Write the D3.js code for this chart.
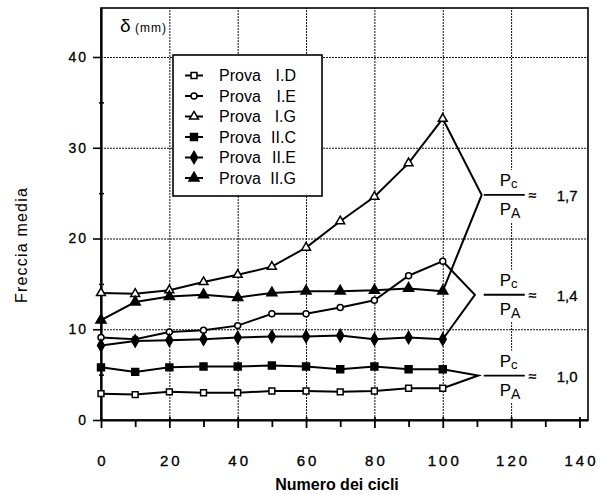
<!DOCTYPE html>
<html>
<head>
<meta charset="utf-8">
<script src="https://cdn.jsdelivr.net/npm/d3@7"></script>
<style>
body { margin: 0; background: #fff; }
svg { font-family: "Liberation Sans", Arial, sans-serif; }
</style>
</head>
<body>
<svg id="svg" width="600" height="495"></svg>
<script>
// values
var cycles = [0, 10, 20, 30, 40, 50, 60, 70, 80, 90, 100];
var provaID  = [2.9, 2.8, 3.1, 3.0, 3.0, 3.2, 3.2, 3.1, 3.2, 3.5, 3.5];
var provaIE  = [9.1, 8.9, 9.7, 9.9, 10.4, 11.7, 11.7, 12.4, 13.2, 15.9, 17.5];
var provaIG  = [14.0, 13.9, 14.3, 15.2, 16.0, 16.9, 19.0, 21.9, 24.6, 28.3, 33.2];
var provaIIC = [5.8, 5.3, 5.8, 5.9, 5.9, 6.0, 5.9, 5.6, 5.9, 5.6, 5.6];
var provaIIE = [8.2, 8.7, 8.8, 8.9, 9.1, 9.2, 9.2, 9.3, 8.9, 9.1, 8.9];
var provaIIG = [11.0, 13.0, 13.6, 13.8, 13.5, 14.0, 14.2, 14.2, 14.3, 14.5, 14.2];

var seriesNames = ["I.D", "I.E", "I.G", "II.C", "II.E", "II.G"];
var seriesValues = [provaID, provaIE, provaIG, provaIIC, provaIIE, provaIIG];

var xTicks = [0, 20, 40, 60, 80, 100, 120, 140];
var xMinor = [10, 30, 50, 70, 90, 110, 130];
var yTicks = [0, 10, 20, 30, 40];
var yMinor = [5, 15, 25, 35];

// Pc/PA groups: which two curves meet, and where they meet
var ratios = ["1,7", "1,4", "1,0"];
var ratioPairs = [["I.G", "II.G"], ["I.E", "II.E"], ["II.C", "I.D"]];
var ratioTipX = [111.4, 109.4, 110.4];
var ratioTipY = [24.8, 13.8, 4.9];

var svg = d3.select("#svg");
var plotLeft = 101, plotRight = 588, plotTop = 8, plotBottom = 420;

var x = d3.scaleLinear().domain([0, 142.5]).range([plotLeft, plotRight]);
var y = d3.scaleLinear().domain([0, 45.4]).range([plotBottom, plotTop]);

// dotted grid
var gx = svg.append("g").attr("transform", "translate(0," + plotBottom + ")")
  .call(d3.axisBottom(x).tickValues([20, 40, 60, 80, 100, 120]).tickSize(-(plotBottom - plotTop)).tickFormat(""));
gx.select(".domain").remove();
gx.selectAll("line").attr("stroke", "#111").attr("stroke-width", 1).attr("stroke-dasharray", "2,1");

var gy = svg.append("g").attr("transform", "translate(" + plotLeft + ",0)")
  .call(d3.axisLeft(y).tickValues([10, 20, 30, 40]).tickSize(-(plotRight - plotLeft)).tickFormat(""));
gy.select(".domain").remove();
gy.selectAll("line").attr("stroke", "#111").attr("stroke-width", 1).attr("stroke-dasharray", "2,1");

// frame
svg.append("rect")
  .attr("x", plotLeft).attr("y", plotTop)
  .attr("width", plotRight - plotLeft).attr("height", plotBottom - plotTop)
  .attr("fill", "none").attr("stroke", "black").attr("stroke-width", 1.6);

// x axis
var xAxis = svg.append("g").attr("transform", "translate(0," + plotBottom + ")")
  .call(d3.axisBottom(x).tickValues(xTicks).tickSize(8).tickSizeOuter(0));
xAxis.select(".domain").attr("stroke-width", 2.2);
xAxis.selectAll(".tick line").attr("y1", -3).attr("stroke-width", 1.8);
xAxis.selectAll("text")
  .attr("y", 46).attr("dy", 0).attr("dx", 1.5)
  .attr("font-size", 15).attr("letter-spacing", 3).attr("fill", "black")
  .attr("stroke", "black").attr("stroke-width", 0.35)
  .style("font-family", "'Liberation Sans', Arial, sans-serif");

var xAxisMinor = svg.append("g").attr("transform", "translate(0," + plotBottom + ")")
  .call(d3.axisBottom(x).tickValues(xMinor).tickSize(7).tickFormat(""));
xAxisMinor.select(".domain").remove();
xAxisMinor.selectAll("line").attr("stroke-width", 1.8);

// y axis
var yAxis = svg.append("g").attr("transform", "translate(" + plotLeft + ",0)")
  .call(d3.axisLeft(y).tickValues(yTicks).tickSize(8).tickSizeOuter(0));
yAxis.select(".domain").attr("stroke-width", 2.2);
yAxis.selectAll(".tick line").attr("stroke-width", 1.6);
yAxis.selectAll("text")
  .attr("x", -13).attr("font-size", 14).attr("letter-spacing", 2).attr("fill", "black")
  .attr("stroke", "black").attr("stroke-width", 0.3)
  .style("font-family", "'Liberation Sans', Arial, sans-serif");

var yAxisMinor = svg.append("g").attr("transform", "translate(" + plotLeft + ",0)")
  .call(d3.axisLeft(y).tickValues(yMinor).tickSize(3).tickFormat(""));
yAxisMinor.select(".domain").remove();
yAxisMinor.selectAll("line").attr("x2", 3).attr("x1", -2).attr("stroke-width", 1.5);

// axis titles
svg.append("text")
  .attr("x", 337).attr("y", 490)
  .attr("text-anchor", "middle")
  .attr("font-size", 16).attr("font-weight", "bold")
  .text("Numero dei cicli");

svg.append("text")
  .attr("transform", "translate(27,245) rotate(-90)")
  .attr("text-anchor", "middle")
  .attr("font-size", 16).attr("letter-spacing", 1.2)
  .text("Freccia media");

svg.append("text").attr("x", 120).attr("y", 32).attr("font-size", 19).text("δ");
svg.append("text").attr("x", 135).attr("y", 32).attr("font-size", 12).attr("letter-spacing", 1).text("(mm)");

// marker look per series
var markerType = [d3.symbolSquare, d3.symbolCircle, d3.symbolTriangle, d3.symbolSquare, d3.symbolDiamond, d3.symbolTriangle];
var markerSize = [34, 28, 34, 48, 42, 44];
var markerFill = ["white", "white", "white", "black", "black", "black"];

var line = d3.line()
  .x(function(d) { return x(d[0]); })
  .y(function(d) { return y(d[1]); });

// Pc/PA brackets joining the last points of each pair
var barX0 = x(112);
for (var k = 0; k < ratios.length; k += 1) {
  var a = seriesValues[seriesNames.indexOf(ratioPairs[k][0])];
  var b = seriesValues[seriesNames.indexOf(ratioPairs[k][1])];
  var last = cycles.length - 1;
  svg.append("path")
    .attr("d", line([[cycles[last], a[last]], [ratioTipX[k], ratioTipY[k]], [cycles[last], b[last]]]))
    .attr("fill", "none").attr("stroke", "black").attr("stroke-width", 2)
    .attr("stroke-linejoin", "miter");
}

for (var i = 0; i < seriesNames.length; i += 1) {
  var pts = cycles.map(function(c, j) { return [c, seriesValues[i][j]]; });
  svg.append("path")
    .attr("d", line(pts))
    .attr("fill", "none").attr("stroke", "black").attr("stroke-width", 2);

  svg.append("g").selectAll("path")
    .data(pts)
    .join("path")
    .attr("transform", function(d) { return "translate(" + x(d[0]) + "," + y(d[1]) + ")"; })
    .attr("d", d3.symbol().type(markerType[i]).size(markerSize[i]))
    .attr("fill", markerFill[i]).attr("stroke", "black").attr("stroke-width", 1.5);
}

// fraction labels
for (var k = 0; k < ratios.length; k += 1) {
  var by = y(ratioTipY[k]);
  var g = svg.append("g");
  g.append("rect")
    .attr("x", barX0 - 1).attr("y", by - 25)
    .attr("width", 586 - barX0).attr("height", 52)
    .attr("fill", "white");
  g.append("line")
    .attr("x1", barX0).attr("x2", barX0 + 41)
    .attr("y1", by).attr("y2", by)
    .attr("stroke", "black").attr("stroke-width", 1.8);
  var t1 = g.append("text").attr("x", barX0 + 16).attr("y", by - 9).attr("font-size", 17).text("P");
  t1.append("tspan").attr("font-size", 13).attr("dy", 2).text("c");
  var t2 = g.append("text").attr("x", barX0 + 16).attr("y", by + 20).attr("font-size", 17).text("P");
  t2.append("tspan").attr("font-size", 14).attr("dy", 3).text("A");
  g.append("text").attr("x", barX0 + 45).attr("y", by + 5).attr("font-size", 14)
    .attr("stroke", "black").attr("stroke-width", 0.4).text("≈");
  g.append("text").attr("x", barX0 + 73).attr("y", by + 6).attr("font-size", 15)
    .attr("stroke", "black").attr("stroke-width", 0.3).text(ratios[k]);
}

// legend
var legend = svg.append("g");
legend.append("rect")
  .attr("x", 173).attr("y", 55).attr("width", 149).attr("height", 141)
  .attr("fill", "white").attr("stroke", "black").attr("stroke-width", 1.6);

for (var i = 0; i < seriesNames.length; i += 1) {
  var ry = 75.5 + i * 20.5;
  legend.append("line")
    .attr("x1", 185).attr("x2", 203).attr("y1", ry).attr("y2", ry)
    .attr("stroke", "black").attr("stroke-width", 2);
  legend.append("path")
    .attr("transform", "translate(194," + ry + ")")
    .attr("d", d3.symbol().type(markerType[i]).size(markerSize[i]))
    .attr("fill", markerFill[i]).attr("stroke", "black").attr("stroke-width", 1.5);
  legend.append("text").attr("x", 219).attr("y", ry + 5.5).attr("font-size", 16).text("Prova");
  legend.append("text").attr("x", 296).attr("y", ry + 5.5).attr("font-size", 16)
    .attr("text-anchor", "end").text(seriesNames[i]);
}
</script>
</body>
</html>
